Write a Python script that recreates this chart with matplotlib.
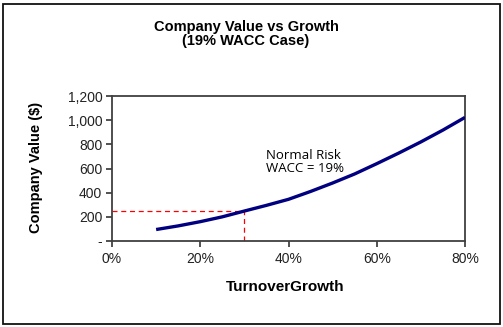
import matplotlib
matplotlib.use("Agg")
import matplotlib.pyplot as plt
from matplotlib.patches import Rectangle

growth = [0.10, 0.15, 0.20, 0.25, 0.30, 0.35, 0.40, 0.45, 0.50, 0.55, 0.60, 0.65, 0.70, 0.75, 0.80]
value = [95, 125, 160, 200, 248, 295, 345, 410, 480, 555, 640, 728, 820, 918, 1023]
marker_growth = 0.30
marker_value = 250
yticks = [0, 200, 400, 600, 800, 1000, 1200]
ytick_labels = ["-", "200", "400", "600", "800", "1,000", "1,200"]
xticks = [0.0, 0.2, 0.4, 0.6, 0.8]
xtick_labels = ["0%", "20%", "40%", "60%", "80%"]

plt.rcParams['font.family'] = ['Liberation Sans', 'DejaVu Sans']

fig = plt.figure(figsize=(5.03, 3.27), dpi=100)
ax = fig.add_axes([112/503, 1-241/327, (465-112)/503, (241-96)/327])

ax.plot(growth, value, color='#000080', lw=2.4, solid_capstyle='butt', zorder=3)
ax.plot([0, marker_growth], [marker_value, marker_value], color='#ff0000', lw=0.9, ls=(0, (4, 3)), zorder=2)
ax.plot([marker_growth, marker_growth], [0, marker_value], color='#ff0000', lw=0.9, ls=(0, (4, 3)), zorder=2)

ax.set_xlim(0, 0.8)
ax.set_ylim(0, 1200)
ax.set_xticks(xticks)
ax.set_xticklabels(xtick_labels)
ax.set_yticks(yticks)
ax.set_yticklabels(ytick_labels)
ax.tick_params(direction='out', length=4, width=1.2, color='#333333', labelsize=10, labelcolor='#222222')
ax.tick_params(axis='x', pad=4)
ax.tick_params(axis='y', pad=3)
for s in ax.spines.values():
    s.set_color('#404040')
    s.set_linewidth(1.3)

ax.text(0.35, 655, "Normal Risk\nWACC = 19%", fontsize=9.5, family=['Open Sans', 'DejaVu Sans'],
        ha='left', va='center', linespacing=0.95, color='#000000')

fig.text(246/503, 1-34/327, "Company Value vs Growth\n(19% WACC Case)", ha='center', va='center',
         fontsize=10.5, fontweight='bold', linespacing=1.05)
fig.text(36/503, 1-167/327, "Company Value ($)", rotation=90, ha='center', va='center',
         fontsize=10.5, fontweight='bold')
fig.text(285/503, 1-287/327, "TurnoverGrowth", ha='center', va='center',
         fontsize=11, fontweight='bold')

fig.patches.append(Rectangle((3/503, 3/327), 497/503, 320/327, transform=fig.transFigure,
                             fill=False, edgecolor='#111111', lw=1.3))

fig.savefig("out.png", dpi=100)
